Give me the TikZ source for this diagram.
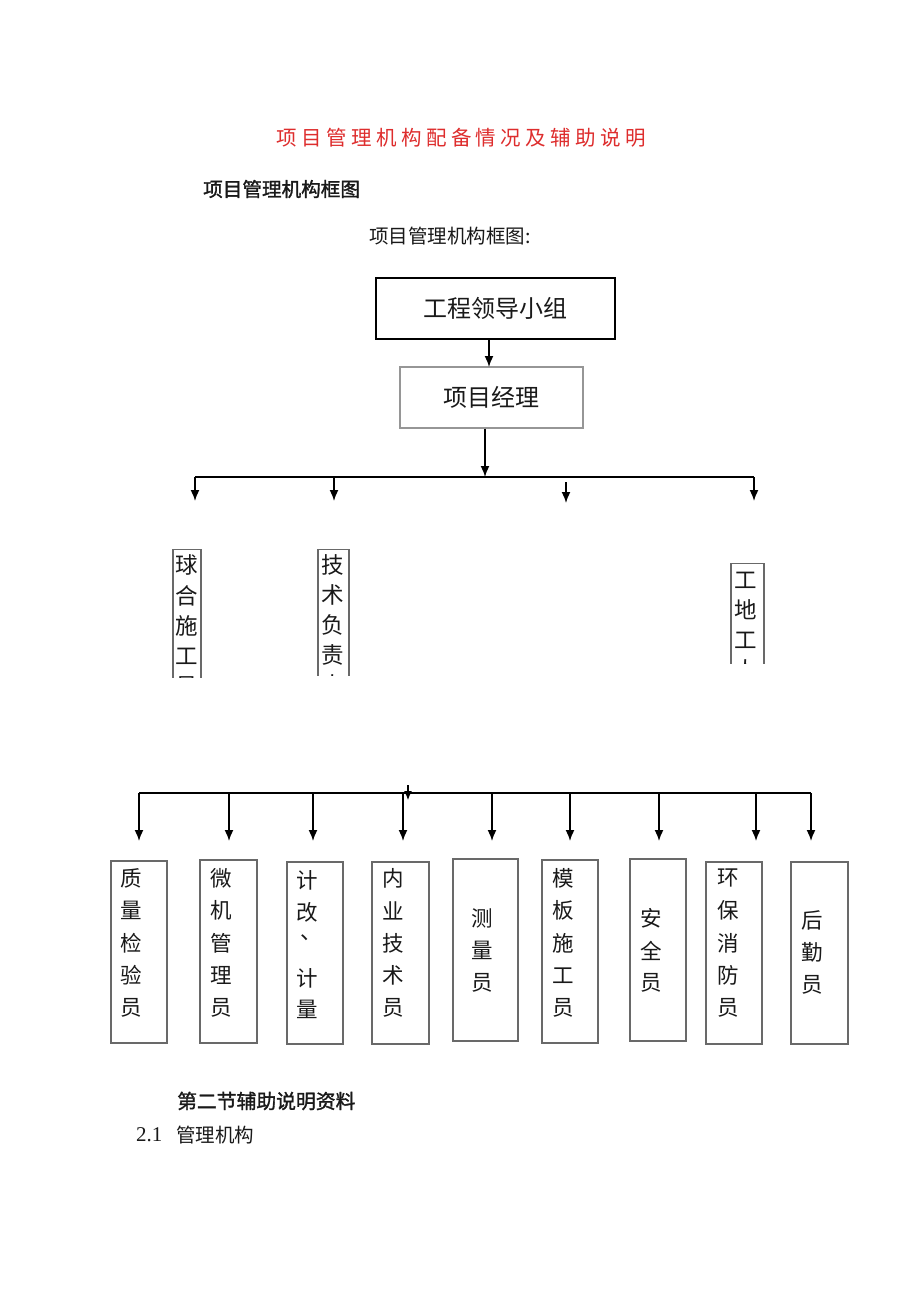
\documentclass[tikz,border=0pt]{standalone}
\usepackage{fontspec}
\setmainfont{Liberation Serif}
\newfontfamily\cjk{Noto Sans CJK SC}
\newfontfamily\cjkb[FakeBold=1.5]{Noto Sans CJK SC}
\usetikzlibrary{arrows.meta}
\definecolor{titlered}{RGB}{222,45,45}
\definecolor{boxgray}{RGB}{105,105,105}
\definecolor{pmgray}{RGB}{150,150,150}
\definecolor{txt}{RGB}{25,25,25}
% #1 name prefix, #2 x, #3 first y, #4 pitch, #5 font, #6 chars
\newcommand\chcol[6]{\foreach \ch [count=\k from 0] in {#6} {\node[font=#5, inner sep=0, text=txt] (#1-\k) at (#2,{#3+\k*#4}) {\ch};}}
\begin{document}
\begin{tikzpicture}[x=1pt,y=-1pt,
  arr/.style={line width=1.6pt,-{Latex[length=11pt,width=9pt]}},
  bus/.style={line width=1.6pt},
  topbox/.style={draw=black,line width=1.4pt,minimum width=239pt,minimum height=61pt,inner sep=0,font=\cjk\fontsize{24}{24}\selectfont,text=txt},
  pmbox/.style={draw=pmgray,line width=1.3pt,minimum width=183pt,minimum height=61pt,inner sep=0,font=\cjk\fontsize{24}{24}\selectfont,text=txt},
  lowbox/.style={draw=boxgray,line width=1.3pt,minimum height=182pt,inner sep=0},
  cutbox/.style={draw=boxgray,line width=1.3pt,minimum height=200pt,inner sep=0,anchor=north},
]
\fill[white] (0,0) rectangle (920,1301);
\useasboundingbox (0,0) rectangle (920,1301);

% title
\foreach \ch [count=\k from 0] in {项,目,管,理,机,构,配,备,情,况,及,辅,助,说,明}
  {\node[font=\cjk\fontsize{20.5}{20}\selectfont, text=titlered, inner sep=0] (title-\k) at ({287+\k*24.9},138) {\ch};}
\node[font=\cjkb\fontsize{19.6}{20}\selectfont, text=txt, inner sep=0, anchor=west] (head) at (203,189) {项目管理机构框图};
\node[font=\cjk\fontsize{19.5}{20}\selectfont, text=txt, inner sep=0, anchor=west] (sub) at (369,236) {项目管理机构框图:};

% top boxes
\node[topbox] (lead) at (495.5,308.5) {工程领导小组};
\node[pmbox] (pm) at (491.5,397.5) {项目经理};
\draw[arr] (489,339) -- (489,367);

% first bus
\coordinate (b1) at (485,477);
\draw[arr] (pm.south -| b1) -- (b1);
\coordinate (bl) at (195,477);
\coordinate (br) at (754,477);
\draw[bus] (bl) -- (br);
\coordinate (a1) at (195,501);
\coordinate (a2) at (334,501);
\coordinate (a3s) at (566,482);
\coordinate (a3) at (566,503);
\coordinate (a4) at (754,501);
\draw[arr] (bl) -- (a1);
\draw[arr] (334,477) -- (a2);
\draw[arr] (a3s) -- (a3);
\draw[arr] (br) -- (a4);

% cut boxes
\begin{scope}
  \clip (150,540) rectangle (220,677);
  \node[cutbox, minimum width=28pt] (c1) at (187,549) {};
  \chcol{c1t}{187}{565}{30.4}{\cjk\fontsize{22.5}{22}\selectfont}{球,合,施,工,员}
\end{scope}
\begin{scope}
  \clip (300,540) rectangle (370,675);
  \node[cutbox, minimum width=31pt] (c2) at (333.5,549) {};
  \chcol{c2t}{333}{565}{30}{\cjk\fontsize{22.5}{22}\selectfont}{技,术,负,责,人}
\end{scope}
\begin{scope}
  \clip (715,550) rectangle (780,663);
  \node[cutbox, minimum width=33pt] (c3) at (747.5,563) {};
  \chcol{c3t}{746}{580}{30}{\cjk\fontsize{22.5}{22}\selectfont}{工,地,工,人}
\end{scope}

% second bus
\coordinate (dl) at (139,793);
\coordinate (dr) at (811,793);
\draw[bus] (dl) -- (dr);
\coordinate (mtop) at (408,785);
\coordinate (mbot) at (408,800);
\draw[line width=1.2pt,-{Latex[length=9pt,width=8pt]}] (mtop) -- (mbot);
\foreach \x [count=\i] in {139,229,313,403,492,570,659,756,811}
  {\coordinate (d\i) at (\x,841); \draw[arr] (\x,793) -- (d\i);}

% lower boxes
\node[lowbox, minimum width=56pt, minimum height=182pt] (q1) at (139,952) {};
\node[lowbox, minimum width=57pt, minimum height=183pt] (q2) at (228.5,951.5) {};
\node[lowbox, minimum width=56pt, minimum height=182pt] (q3) at (315,953) {};
\node[lowbox, minimum width=57pt, minimum height=182pt] (q4) at (400.5,953) {};
\node[lowbox, minimum width=65pt, minimum height=182pt] (q5) at (485.5,950) {};
\node[lowbox, minimum width=56pt, minimum height=183pt] (q6) at (570,951.5) {};
\node[lowbox, minimum width=56pt, minimum height=182pt] (q7) at (658,950) {};
\node[lowbox, minimum width=56pt, minimum height=182pt] (q8) at (734,953) {};
\node[lowbox, minimum width=57pt, minimum height=182pt] (q9) at (819.5,953) {};

\chcol{q1t}{131}{878}{32.5}{\cjk\fontsize{21.5}{20}\selectfont}{质,量,检,验,员}
\chcol{q2t}{221}{878}{32.5}{\cjk\fontsize{21.5}{20}\selectfont}{微,机,管,理,员}
\node[font=\cjk\fontsize{21.5}{20}\selectfont, inner sep=0, text=txt] (q3a) at (307,880) {计};
\node[font=\cjk\fontsize{21.5}{20}\selectfont, inner sep=0, text=txt] (q3b) at (307,912) {改};
\node[font=\cjk\fontsize{21.5}{20}\selectfont, inner sep=0, text=txt] (q3c) at (311,938) {、};
\node[font=\cjk\fontsize{21.5}{20}\selectfont, inner sep=0, text=txt] (q3d) at (307,978) {计};
\node[font=\cjk\fontsize{21.5}{20}\selectfont, inner sep=0, text=txt] (q3e) at (307,1009) {量};
\chcol{q4t}{393}{878}{32.5}{\cjk\fontsize{21.5}{20}\selectfont}{内,业,技,术,员}
\chcol{q5t}{482}{918}{32.5}{\cjk\fontsize{21.5}{20}\selectfont}{测,量,员}
\chcol{q6t}{563}{878}{32.5}{\cjk\fontsize{21.5}{20}\selectfont}{模,板,施,工,员}
\chcol{q7t}{651}{918}{32.5}{\cjk\fontsize{21.5}{20}\selectfont}{安,全,员}
\chcol{q8t}{728}{878}{32.5}{\cjk\fontsize{21.5}{20}\selectfont}{环,保,消,防,员}
\chcol{q9t}{812}{920}{32.5}{\cjk\fontsize{21.5}{20}\selectfont}{后,勤,员}

% bottom texts
\node[font=\cjkb\fontsize{19.8}{20}\selectfont, text=txt, inner sep=0, anchor=west] (sec) at (177,1101) {第二节辅助说明资料};
\node[font=\fontsize{21}{21}\selectfont, text=txt, inner sep=0, anchor=west] (num) at (136,1135) {2.1};
\node[font=\cjk\fontsize{19.5}{20}\selectfont, text=txt, inner sep=0, anchor=west] (mgmt) at (176,1135) {管理机构};
\end{tikzpicture}
\end{document}
